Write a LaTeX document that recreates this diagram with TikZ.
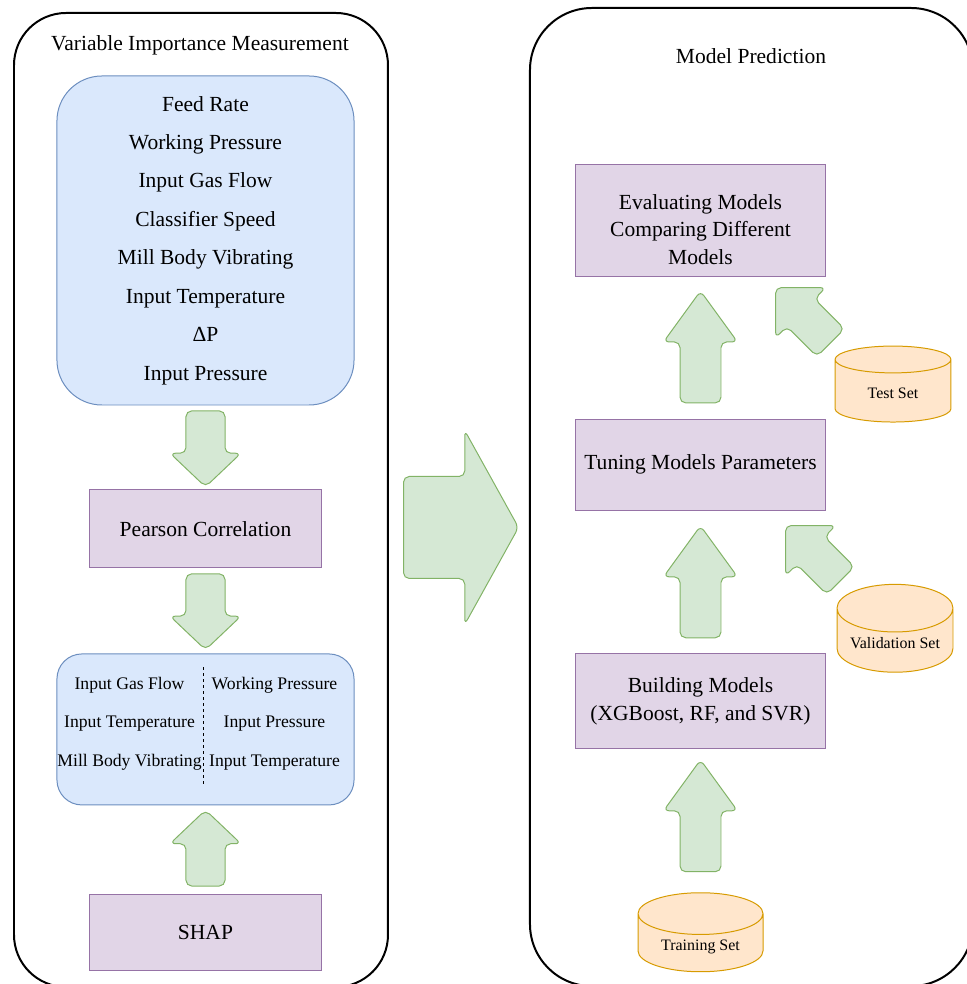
\documentclass[tikz,border=0pt]{standalone}
\usepackage{fontspec}
\setmainfont{Liberation Serif}
\usetikzlibrary{positioning,calc,shapes.geometric,shapes.arrows}
\definecolor{featbg}{HTML}{DAE8FC}
\definecolor{featline}{HTML}{6C8EBF}
\definecolor{procbg}{HTML}{E1D5E7}
\definecolor{procline}{HTML}{9673A6}
\definecolor{flowbg}{HTML}{D5E8D4}
\definecolor{flowline}{HTML}{82B366}
\definecolor{databg}{HTML}{FFE6CC}
\definecolor{dataline}{HTML}{D79B00}
\tikzset{
  frame/.style={draw=black, line width=1.5pt, inner sep=0pt, anchor=north west},
  ftitle/.style={font=\fontsize{16.2}{19}\selectfont, anchor=base, inner sep=0pt},
  feat/.style={draw=featline, fill=featbg, line width=0.75pt, align=center,
               inner sep=0pt, minimum width=78.6mm},
  proc/.style={draw=procline, fill=procbg, line width=0.75pt, align=center,
               inner sep=0pt, font=\fontsize{16.2}{21}\selectfont},
  listtxt/.style={font=\fontsize{13.3}{28.9}\selectfont, align=center, inner sep=0pt},
  divider/.style={draw=black, line width=0.75pt, dash pattern=on 2.25pt off 2.25pt},
  data/.style={cylinder, shape border rotate=90, aspect=0.53, draw=dataline,
               fill=databg, line width=0.75pt, inner sep=0pt,
               text height=12pt, text depth=0pt,
               font=\fontsize{12}{14}\selectfont},
  % fat block arrows drawn as nodes; inner ysep is half the shaft,
  % they are pinned by their tail, rotate sets where they point
  fat/.style={single arrow, draw=flowline, fill=flowbg, line width=0.75pt,
              inner xsep=0pt, rounded corners=1.5mm, anchor=tail},
  leftfat/.style={fat, inner ysep=5.03mm, minimum height=20.1mm,
                  single arrow head extend=4.23mm, single arrow tip angle=93},
  rightfat/.style={fat, rotate=90, inner ysep=5.29mm, minimum height=29.6mm,
                   single arrow head extend=4.37mm, single arrow tip angle=72},
  slantfat/.style={fat, rotate=135, inner ysep=5.03mm, minimum height=20.6mm,
                   single arrow head extend=4.23mm, single arrow tip angle=90},
}

\begin{document}
\begin{tikzpicture}
\useasboundingbox (0,0) rectangle (255.6mm,-260.35mm);

% ---------------------------------------------------------------- frames
\node[frame, minimum width=98.95mm, minimum height=257.7mm, rounded corners=13.8mm]
  (lframe) at (3.44mm,-3.17mm) {};
\node[frame, minimum width=117.2mm, minimum height=258.8mm, rounded corners=16.4mm]
  (rframe) at (139.96mm,-1.85mm) {};
\node[ftitle] (ltitle) at (52.9mm,-13.23mm) {Variable Importance Measurement};
\node[ftitle] (rtitle) at (198.7mm,-16.67mm) {Model Prediction};

% ---------------------------------------------------------------- variable importance
\node[feat, minimum height=87.05mm, rounded corners=11.9mm,
      font=\fontsize{16.2}{28.95}\selectfont] (featbox) at (54.37mm,-63.63mm)
  {Feed Rate\\Working Pressure\\Input Gas Flow\\Classifier Speed\\
   Mill Body Vibrating\\Input Temperature\\ΔP\\Input Pressure};
\node[proc, minimum width=61.4mm, minimum height=20.64mm, below=22.2mm of featbox]
  (pearson) {Pearson Correlation};
\node[feat, minimum height=39.95mm, rounded corners=6.6mm, below=22.5mm of pearson]
  (selbox) {};
\node[listtxt] (selleft) at ($(selbox.center)+(-20.1mm,1.6mm)$)
  {Input Gas Flow\\Input Temperature\\Mill Body Vibrating};
\node[listtxt] (selright) at ($(selbox.center)+(18.26mm,1.6mm)$)
  {Working Pressure\\Input Pressure\\Input Temperature};
\draw[divider] ($(selbox.north)+(-0.66mm,-3.7mm)$) -- ($(selbox.south)+(-0.66mm,5mm)$);
\node[proc, minimum width=61.4mm, minimum height=20.1mm, below=23.55mm of selbox]
  (shap) {SHAP};

\node[leftfat, rotate=-90] (featarrow) at ($(featbox.south)+(0,-1.3mm)$) {};
\node[leftfat, rotate=-90] (pearsonarrow) at ($(pearson.south)+(0,-1.3mm)$) {};
\node[leftfat, rotate=90] (shaparrow) at ($(shap.north)+(0,2.1mm)$) {};

% ---------------------------------------------------------------- hand over
\node[fat, inner ysep=13.36mm, minimum height=30.43mm,
      single arrow head extend=12.17mm, single arrow tip angle=122]
  (bigarrow) at (106.63mm,-139.56mm) {};

% ---------------------------------------------------------------- model prediction
% strut on the first line pushes the text a little below the box centre
\node[proc, minimum width=66.4mm, minimum height=29.37mm] (evalbox) at (185.34mm,-58.34mm)
  {\rule{0pt}{25pt}Evaluating Models\\Comparing Different\\Models};
\node[proc, minimum width=66.4mm, minimum height=24.08mm, below=37.57mm of evalbox]
  (tunebox) {Tuning Models Parameters};
\node[proc, minimum width=66.4mm, minimum height=25.14mm, below=37.8mm of tunebox]
  (buildbox) {Building Models\\(XGBoost, RF, and SVR)};
\node[data, minimum width=33.07mm, minimum height=20.1mm, below=37.8mm of buildbox]
  (traincyl) {Training Set};
\node[data, minimum width=30.69mm, minimum height=20.37mm] (valcyl) at (236.8mm,-169.45mm)
  {Validation Set};
\node[data, minimum width=30.69mm, minimum height=20.1mm] (testcyl) at (236.27mm,-103.45mm)
  {Test Set};

\node[rightfat] (tunearrow) at ($(tunebox.north)+(0,4mm)$) {};
\node[rightfat] (buildarrow) at ($(buildbox.north)+(0,4mm)$) {};
\node[rightfat] (trainarrow) at ($(traincyl.north)+(0,5.3mm)$) {};
\node[slantfat] (valarrow) at (222.5mm,-153.7mm) {};
\node[slantfat] (testarrow) at (219.87mm,-90.75mm) {};

\end{tikzpicture}
\end{document}
